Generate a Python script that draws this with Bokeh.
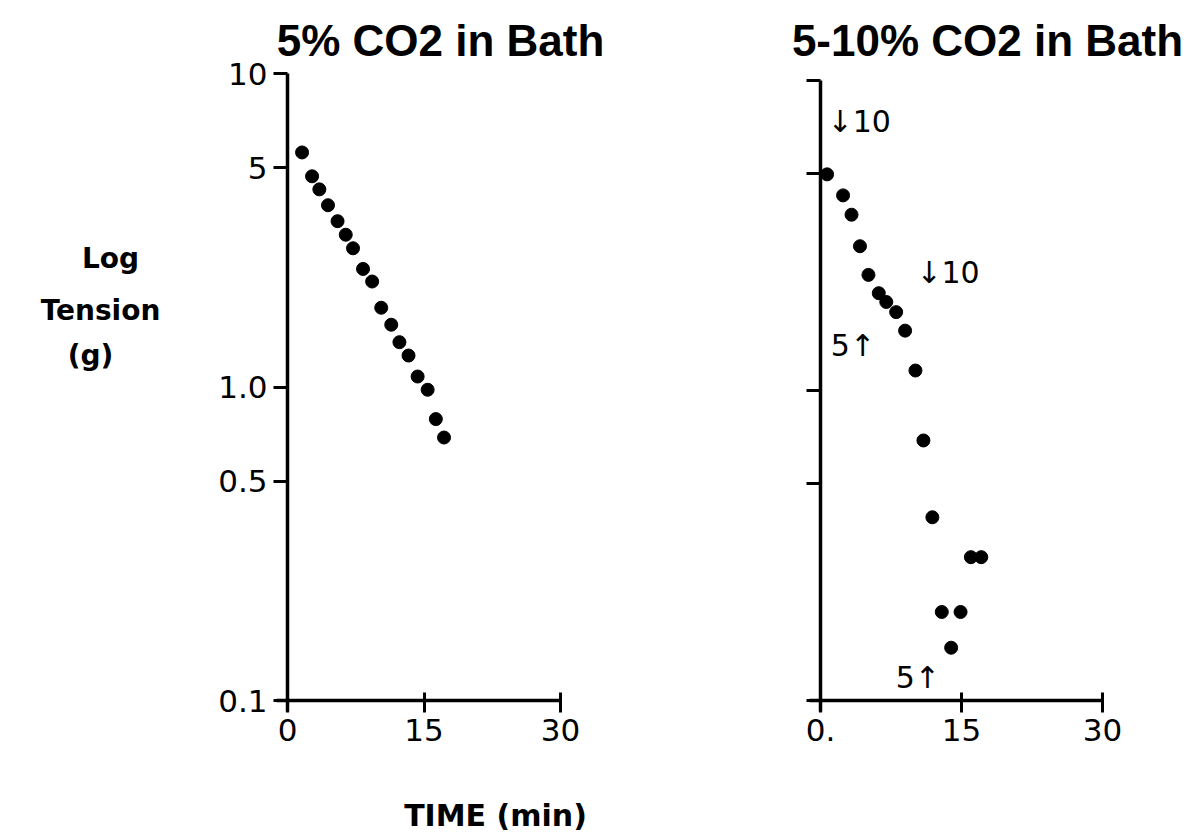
import math
from bokeh.plotting import figure
from bokeh.layouts import row
from bokeh.models import Range1d, FixedTicker, Label
from bokeh.embed import file_html
from bokeh.resources import INLINE

# ---- data ----
left_time = [1.6, 2.7, 3.5, 4.45, 5.5, 6.4, 7.2, 8.3, 9.3, 10.3, 11.4, 12.3, 13.3, 14.3, 15.4, 16.3, 17.2]
left_tension = [5.6, 4.7, 4.27, 3.8, 3.38, 3.06, 2.77, 2.38, 2.17, 1.79, 1.58, 1.39, 1.26, 1.08, 0.98, 0.79, 0.69]

right_time = [0.7, 2.4, 3.3, 4.2, 5.1, 6.2, 7.0, 8.05, 9.0, 10.1, 10.95, 11.9, 12.9, 14.9, 13.9, 16.0, 17.1]
right_tension = [4.98, 4.26, 3.69, 2.92, 2.36, 2.06, 1.93, 1.79, 1.56, 1.16, 0.69, 0.39, 0.193, 0.193, 0.148, 0.29, 0.29]

note_text = ["\u219310", "\u219310", "5\u2191", "5\u2191"]
note_time = [0.75, 10.2, 1.1, 8.0]
note_tension = [7.4, 2.4, 1.4, 0.119]

x_ticks = [0, 15, 30]
y_ticks = [0.1, 0.5, 1, 5, 10]
y_tick_labels = ["0.1", "0.5", "1.0", "5", "10"]

left_title = "5% CO2 in Bath"
right_title = "5-10% CO2 in Bath"
y_label_lines = ["Log", "Tension", "(g)"]
x_label = "TIME (min)"

TICK_FONT = "DejaVu Sans"
TXT_FONT = "DejaVu Sans"
H = 840


def make_panel(width, ax_left, ax_right, ax_top, ax_bottom, show_ylabels):
    """Panel whose frame fills the canvas; axes sit at x=0 / y=0.1 with bounds."""
    xpp = 30.0 / (ax_right - ax_left)
    x0 = -ax_left * xpp
    x1 = (width - ax_left) * xpp
    dec = (ax_bottom - ax_top) / 2.0
    ytop = 10 ** (1 + ax_top / dec)
    ybot = 10 ** (1 - (H - ax_top) / dec)
    p = figure(width=width, height=H, x_range=Range1d(x0, x1), y_range=Range1d(ybot, ytop),
               y_axis_type="log", output_backend="svg", toolbar_location=None,
               min_border=0, min_border_left=0, min_border_right=0,
               min_border_top=0, min_border_bottom=0)
    p.outline_line_color = None
    p.xgrid.visible = False
    p.ygrid.visible = False
    p.background_fill_color = "white"
    p.border_fill_color = "white"
    for ax in (p.xaxis[0], p.yaxis[0]):
        ax.axis_line_width = 3.5
        ax.axis_line_color = "black"
        ax.major_tick_line_width = 3
        ax.major_tick_line_color = "black"
        ax.minor_tick_line_color = None
        ax.major_label_text_font = TICK_FONT
        ax.major_label_text_font_size = "31px"
        ax.major_label_text_color = "black"
    p.xaxis.fixed_location = 0.1
    p.xaxis.bounds = (-1.2, 30)
    p.yaxis.fixed_location = 0
    p.yaxis.bounds = (0.092, 10)
    p.xaxis.ticker = FixedTicker(ticks=x_ticks)
    p.xaxis.major_tick_out = 12
    p.xaxis.major_tick_in = 8
    p.xaxis.major_label_standoff = 6
    p.yaxis.ticker = FixedTicker(ticks=y_ticks)
    p.yaxis.major_tick_out = 14
    p.yaxis.major_tick_in = 0
    p.yaxis.major_label_standoff = 6
    if show_ylabels:
        p.yaxis.major_label_overrides = {t: s for t, s in zip(y_ticks, y_tick_labels)}
    else:
        p.yaxis.major_label_overrides = {t: "" for t in y_ticks}
    return p


def px_to_data(px, py, ax_left, ax_right, ax_top, ax_bottom):
    x = (px - ax_left) * 30.0 / (ax_right - ax_left)
    dec = (ax_bottom - ax_top) / 2.0
    y = 10 ** (1 - (py - ax_top) / dec)
    return x, y


# ---- left panel (canvas x 0..640) ----
LG = (287, 560, 73, 700)
p1 = make_panel(640, *LG, True)
p1.scatter(left_time, left_tension, size=13, color="black")

tx, ty = px_to_data(440, 40, *LG)
p1.add_layout(Label(x=tx, y=ty, text=left_title, text_font="Liberation Sans",
                    text_font_style="bold", text_font_size="44px", text_align="center",
                    text_baseline="middle", text_color="black"))
for t, (px, py) in zip(y_label_lines, [(110, 258), (100, 310), (90, 355)]):
    lx, ly = px_to_data(px, py, *LG)
    p1.add_layout(Label(x=lx, y=ly, text=t, text_font=TXT_FONT, text_font_style="bold",
                        text_font_size="28px", text_align="center", text_baseline="middle",
                        text_color="black"))
lx, ly = px_to_data(495, 815, *LG)
p1.add_layout(Label(x=lx, y=ly, text=x_label, text_font=TXT_FONT, text_font_style="bold",
                    text_font_size="30px", text_align="center", text_baseline="middle",
                    text_color="black"))

# ---- right panel (canvas x 640..1195) ----
RG = (180, 462, 80, 700)
p2 = make_panel(555, *RG, False)
p2.xaxis.major_label_overrides = {0: "0."}
p2.scatter(right_time, right_tension, size=13, color="black")
for t, xx, yy in zip(note_text, note_time, note_tension):
    p2.add_layout(Label(x=xx, y=yy, text=t, text_font=TXT_FONT, text_font_size="30px",
                        text_align="left", text_baseline="middle", text_color="black"))
tx, ty = px_to_data(987 - 640, 40, *RG)
p2.add_layout(Label(x=tx, y=ty, text=right_title, text_font="Liberation Sans",
                    text_font_style="bold", text_font_size="44px", text_align="center",
                    text_baseline="middle", text_color="black"))

layout = row(p1, p2, spacing=0)
open("out.html", "w").write(file_html(layout, INLINE))
